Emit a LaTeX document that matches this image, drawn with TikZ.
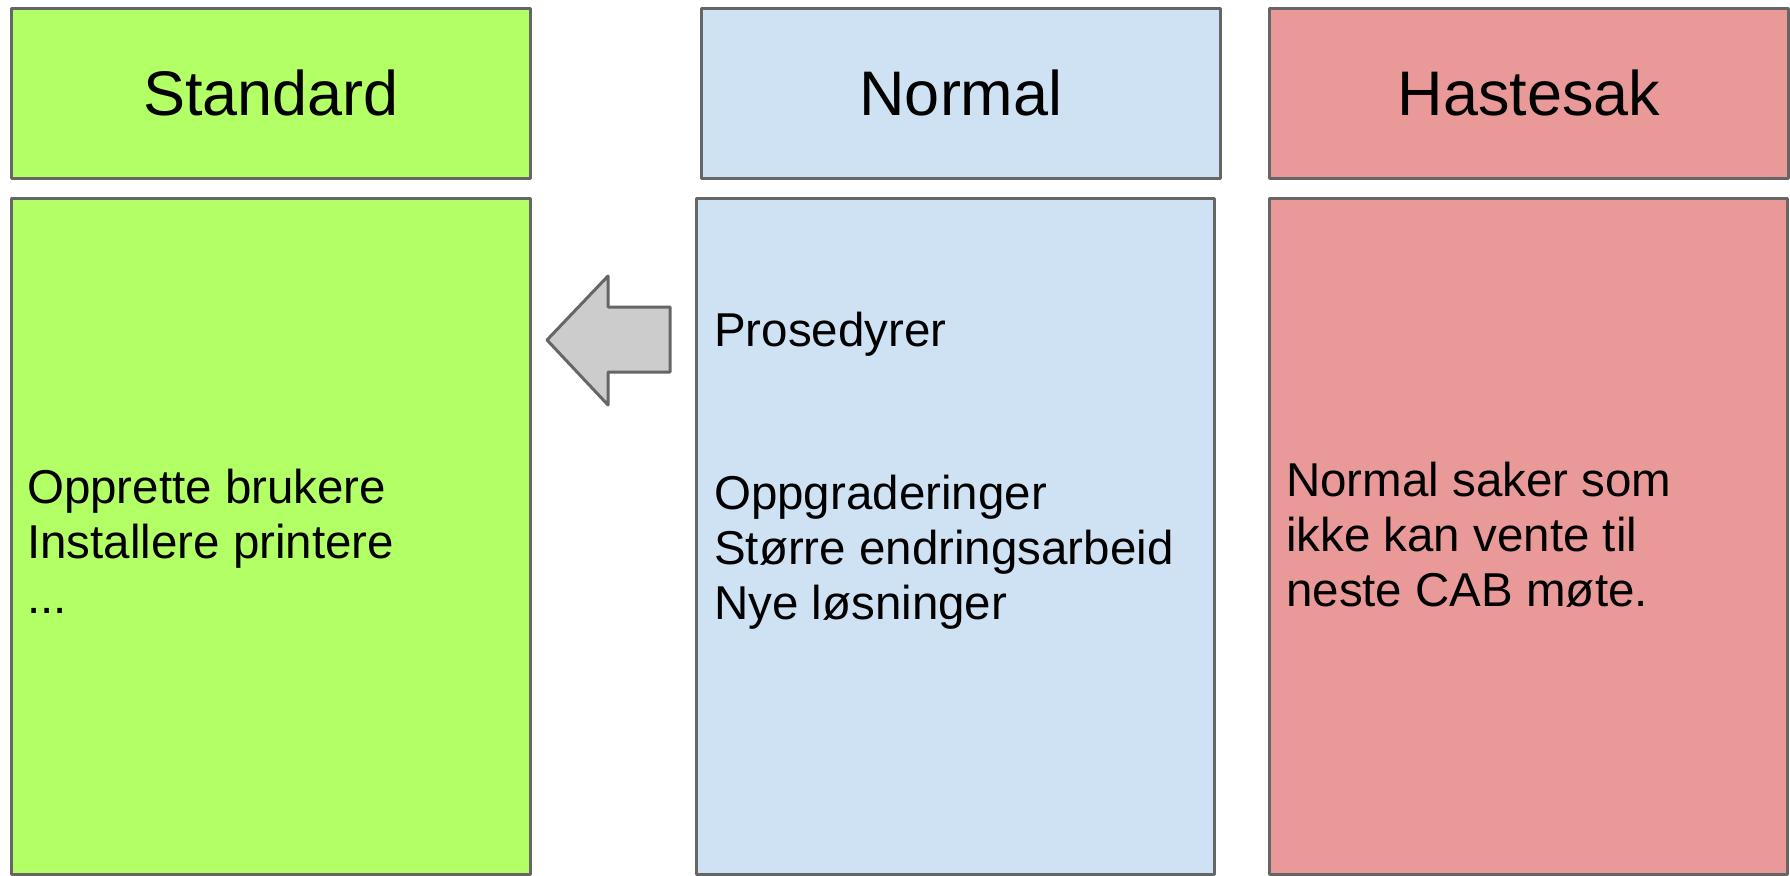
\documentclass[tikz,border=0pt]{standalone}
\usepackage{fontspec}
\setmainfont{Liberation Sans}
\definecolor{stdgreen}{HTML}{B3FF66}
\definecolor{normblue}{HTML}{CFE2F3}
\definecolor{hastered}{HTML}{EA9999}
\definecolor{arrowgray}{HTML}{CCCCCC}
\definecolor{bordergray}{HTML}{666666}
\newcommand{\hdrlift}[1]{\raisebox{2pt}{#1}}
\begin{document}
\begin{tikzpicture}[x=1pt,y=-1pt,
  box/.style={draw=bordergray, line width=3pt, line join=round, inner sep=0pt, anchor=north west},
  hdrbox/.style={box, minimum width=519pt, minimum height=170pt, font=\fontsize{63}{72}\selectfont},
  mainbox/.style={box, minimum height=676pt},
  bodytext/.style={font=\fontsize{47.5}{54.6}\selectfont, align=left, anchor=base west, inner sep=0pt}]
\useasboundingbox (0,0) rectangle (1790,875);
% headers
\node[hdrbox, fill=stdgreen] (stdhead) at (10,7) {\hdrlift{Standard}};
\node[hdrbox, fill=normblue] (normhead) at (700,7) {\hdrlift{Normal}};
\node[hdrbox, fill=hastered] (hastehead) at (1268,7) {\hdrlift{Hastesak}};
% main boxes
\node[mainbox, fill=stdgreen, minimum width=519pt] (stdmain) at (10,197) {};
\node[mainbox, fill=normblue, minimum width=518pt] (normmain) at (695,197) {};
\node[mainbox, fill=hastered, minimum width=518pt] (hastemain) at (1268,197) {};
% body texts (anchor = baseline of last line)
\node[bodytext] (stdtext) at (27,613) {Opprette brukere\\Installere printere\\...};
\node[bodytext] (normtext) at (714,619) {Prosedyrer\\[109.2pt]Oppgraderinger\\Større endringsarbeid\\Nye løsninger};
\node[bodytext] (hastetext) at (1286,606) {Normal saker som\\ikke kan vente til\\neste CAB møte.};
% arrow
\draw[draw=bordergray, fill=arrowgray, line width=3pt, line join=round]
  (547,340) -- (608,276) -- (608,307) -- (670,307) -- (670,372) -- (608,372) -- (608,405) -- cycle;
\end{tikzpicture}
\end{document}
